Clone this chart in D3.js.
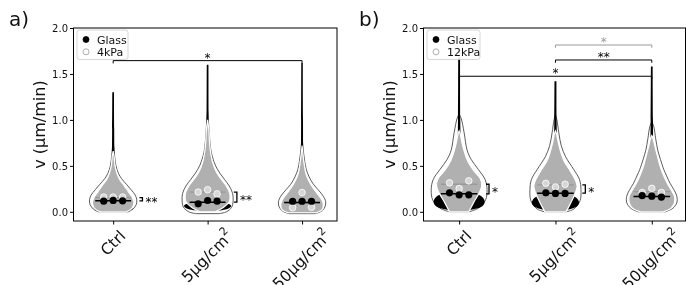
<!DOCTYPE html>
<html>
<head>
<meta charset="utf-8">
<script src="https://cdn.jsdelivr.net/npm/d3@7"></script>
<style>
body { margin: 0; background: #fff; }
svg { will-change: transform; }
text { font-family: "DejaVu Sans", sans-serif; }
</style>
</head>
<body>
<div id="chart"></div>
<script>
var categories = ["Ctrl", "5µg/cm^2", "50µg/cm^2"];
var yTicks = [0, 0.5, 1.0, 1.5, 2.0];
var legendA = ["Glass", "4kPa"];
var legendB = ["Glass", "12kPa"];

// replicate means (dots) and medians, per category
var glassDotsA = [[0.116, 0.124, 0.12], [0.087, 0.123, 0.116], [0.115, 0.115, 0.115]];
var softDotsA = [[0.16, 0.16, 0.16], [0.215, 0.24, 0.195], [0.045, 0.21, 0.05]];
var glassMedA = [0.12, 0.105, 0.10];
var softMedA = [0.155, 0.215, 0.095];

var glassDotsB = [[0.207, 0.185, 0.185], [0.207, 0.2, 0.2], [0.177, 0.17, 0.16]];
var softDotsB = [[0.315, 0.253, 0.337], [0.31, 0.27, 0.30], [0.21, 0.255, 0.21]];
var glassMedB = [0.196, 0.203, 0.167];
var softMedB = [0.30, 0.293, 0.22];

// violin outlines: [value, half width]
var outerA = [
  [[0, 0.16], [0.03, 0.21], [0.08, 0.245], [0.13, 0.25], [0.18, 0.235], [0.24, 0.19], [0.3, 0.14], [0.36, 0.09], [0.42, 0.055], [0.5, 0.03], [0.6, 0.016], [0.7, 0.008], [0.76, 0]],
  [[-0.02, 0.12], [0, 0.2], [0.05, 0.255], [0.12, 0.27], [0.2, 0.265], [0.28, 0.23], [0.35, 0.18], [0.42, 0.13], [0.5, 0.085], [0.6, 0.05], [0.7, 0.03], [0.85, 0.018], [1.0, 0.008], [1.1, 0]],
  [[-0.02, 0.14], [0.01, 0.21], [0.06, 0.245], [0.11, 0.25], [0.17, 0.225], [0.24, 0.17], [0.3, 0.12], [0.38, 0.075], [0.46, 0.045], [0.55, 0.028], [0.65, 0.015], [0.75, 0.006], [0.8, 0]]
];
var blackA = [
  [[0, 0.12], [0.03, 0.2], [0.07, 0.21], [0.11, 0.18], [0.16, 0.1], [0.22, 0.05], [0.3, 0.025], [0.5, 0.015], [0.9, 0.011], [1.3, 0.009]],
  [[0.01, 0.1], [0.035, 0.22], [0.065, 0.25], [0.095, 0.2], [0.13, 0.1], [0.2, 0.055], [0.28, 0.035], [0.4, 0.02], [0.8, 0.012], [1.6, 0.009]],
  [[0, 0.1], [0.05, 0.18], [0.1, 0.17], [0.15, 0.1], [0.22, 0.05], [0.3, 0.03], [0.5, 0.015], [1.0, 0.01], [1.62, 0.008]]
];
var greyA = [
  [[0, 0.14], [0.04, 0.2], [0.1, 0.22], [0.16, 0.2], [0.22, 0.16], [0.28, 0.12], [0.35, 0.07], [0.42, 0.04], [0.5, 0.02], [0.6, 0.01], [0.66, 0]],
  [[0.0, 0.08], [0.05, 0.17], [0.11, 0.23], [0.2, 0.235], [0.28, 0.2], [0.36, 0.14], [0.44, 0.09], [0.55, 0.05], [0.7, 0.025], [0.9, 0.012], [1.0, 0]],
  [[-0.01, 0.15], [0.02, 0.21], [0.08, 0.225], [0.13, 0.21], [0.2, 0.16], [0.27, 0.11], [0.34, 0.07], [0.42, 0.04], [0.5, 0.025], [0.6, 0.012], [0.72, 0]]
];
var outerB = [
  [[0, 0.1], [0.04, 0.2], [0.13, 0.275], [0.24, 0.29], [0.35, 0.27], [0.46, 0.2], [0.57, 0.125], [0.67, 0.083], [0.86, 0.052], [1.02, 0.02], [1.06, 0]],
  [[0, 0.11], [0.03, 0.19], [0.12, 0.255], [0.24, 0.265], [0.35, 0.25], [0.46, 0.19], [0.6, 0.105], [0.72, 0.06], [0.86, 0.035], [1.0, 0.015], [1.06, 0]],
  [[0, 0.14], [0.04, 0.22], [0.1, 0.26], [0.17, 0.26], [0.24, 0.23], [0.31, 0.19], [0.4, 0.15], [0.46, 0.125], [0.57, 0.09], [0.67, 0.062], [0.8, 0.04], [0.93, 0.02], [0.98, 0]]
];
var blackB = [
  [[0.02, 0.12], [0.06, 0.24], [0.11, 0.265], [0.16, 0.24], [0.21, 0.16], [0.28, 0.08], [0.4, 0.04], [0.6, 0.02], [1.0, 0.012], [1.68, 0.01]],
  [[0.02, 0.12], [0.06, 0.225], [0.1, 0.245], [0.15, 0.22], [0.2, 0.14], [0.28, 0.07], [0.4, 0.04], [0.6, 0.02], [1.0, 0.012], [1.42, 0.01]],
  [[0, 0.08], [0.05, 0.16], [0.1, 0.18], [0.15, 0.14], [0.22, 0.08], [0.3, 0.04], [0.5, 0.02], [1.0, 0.012], [1.58, 0.009]]
];
var greyB = [
  [[0, 0.1], [0.1, 0.15], [0.2, 0.205], [0.28, 0.235], [0.36, 0.22], [0.45, 0.15], [0.55, 0.09], [0.65, 0.055], [0.75, 0.03], [0.85, 0.01], [0.88, 0]],
  [[0, 0.11], [0.1, 0.16], [0.2, 0.205], [0.28, 0.225], [0.36, 0.2], [0.45, 0.15], [0.55, 0.09], [0.65, 0.055], [0.75, 0.03], [0.85, 0.01], [0.88, 0]],
  [[0, 0.12], [0.04, 0.2], [0.1, 0.235], [0.17, 0.235], [0.24, 0.2], [0.31, 0.16], [0.4, 0.12], [0.5, 0.085], [0.6, 0.06], [0.7, 0.035], [0.8, 0.012], [0.83, 0]]
];

// significance: glass vs soft next to each violin, and between categories
var innerSigA = ["**", "**", null];
var innerSigB = ["*", "*", null];
var topSigA = [[0, 2, 1.645, "*", "glass"]];
var topSigB = [[1, 2, 1.815, "*", "soft"], [1, 2, 1.652, "**", "glass"], [0, 2, 1.475, "*", "glass"]];

var width = 686, height = 285;
var top0 = 28, bottom0 = 221;

var svg = d3.select('#chart')
  .append('svg')
  .attr('width', width)
  .attr('height', height);

var panel = function(cfg) {
  var x = d3.scaleLinear().domain(cfg.xDomain).range([cfg.left, cfg.right]);
  var y = d3.scaleLinear().domain([-0.1, 2.0]).range([bottom0, top0]);
  var g = svg.append('g');

  var violin = function(c) {
    return d3.area()
      .curve(d3.curveCatmullRom.alpha(0.5))
      .y(function(d) { return y(d[0]); })
      .x0(function(d) { return x(c - d[1]); })
      .x1(function(d) { return x(c + d[1]); });
  };

  categories.forEach(function(cat, i) {
    g.append('path').attr('d', violin(i)(cfg.outer[i]))
      .attr('fill', '#fff').attr('stroke', '#333').attr('stroke-width', 0.8);
    g.append('path').attr('d', violin(i)(cfg.black[i]))
      .attr('fill', '#000');
    g.append('path').attr('d', violin(i)(cfg.grey[i]))
      .attr('fill', '#b0b0b0').attr('stroke', '#fff').attr('stroke-width', 1.2);
  });

  var jitter = [-0.1, 0, 0.1];
  var halfLine = 0.19;

  categories.forEach(function(cat, i) {
    g.append('line')
      .attr('x1', x(i - halfLine)).attr('x2', x(i + halfLine))
      .attr('y1', y(cfg.softMed[i])).attr('y2', y(cfg.softMed[i]))
      .attr('stroke', '#999').attr('stroke-width', 1.3);
    g.append('line')
      .attr('x1', x(i - halfLine)).attr('x2', x(i + halfLine))
      .attr('y1', y(cfg.glassMed[i])).attr('y2', y(cfg.glassMed[i]))
      .attr('stroke', '#000').attr('stroke-width', 1.5);
    g.selectAll('.soft' + i)
      .data(cfg.softDots[i])
      .enter().append('circle')
      .attr('cx', function(d, j) { return x(i + jitter[j]); })
      .attr('cy', function(d) { return y(d); })
      .attr('r', 3.3)
      .attr('fill', '#d6d6d6').attr('stroke', '#fff').attr('stroke-width', 0.8);
    g.selectAll('.glass' + i)
      .data(cfg.glassDots[i])
      .enter().append('circle')
      .attr('cx', function(d, j) { return x(i + jitter[j]); })
      .attr('cy', function(d) { return y(d); })
      .attr('r', 3.6)
      .attr('fill', '#000');

    if (cfg.innerSig[i]) {
      var bx = x(i + 0.31);
      var y1 = y(cfg.softMed[i]), y2 = y(cfg.glassMed[i]);
      g.append('path')
        .attr('d', 'M' + (bx - 3) + ',' + y1 + 'H' + bx + 'V' + y2 + 'H' + (bx - 3))
        .attr('fill', 'none').attr('stroke', '#000').attr('stroke-width', 1.3);
      g.append('text')
        .attr('x', bx + 3).attr('y', (y1 + y2) / 2 + 7)
        .attr('font-size', 12)
        .attr('fill', '#000')
        .text(cfg.innerSig[i]);
    }
  });

  cfg.topSig.forEach(function(s) {
    var col = s[4] === 'soft' ? '#999' : '#000';
    var drop = 0.03;
    g.append('path')
      .attr('d', 'M' + x(s[0]) + ',' + y(s[2] - drop) + 'V' + y(s[2]) + 'H' + x(s[1]) + 'V' + y(s[2] - drop))
      .attr('fill', 'none').attr('stroke', col).attr('stroke-width', 1);
    g.append('text')
      .attr('x', (x(s[0]) + x(s[1])) / 2).attr('y', y(s[2]) + 1)
      .attr('text-anchor', 'middle')
      .attr('font-size', 12)
      .attr('fill', col)
      .text(s[3]);
  });

  // axes
  var yAxis = d3.axisLeft(y).tickValues(yTicks).tickFormat(d3.format('.1f'))
    .tickSize(3.5).tickSizeOuter(0).tickPadding(2);
  var ya = g.append('g').attr('transform', 'translate(' + cfg.left + ',0)').call(yAxis);
  ya.select('.domain').remove();
  ya.selectAll('text').attr('font-size', 10).attr('font-family', '"DejaVu Sans", sans-serif').attr('fill', '#111');

  var xAxis = d3.axisBottom(x).tickValues([0, 1, 2]).tickFormat('').tickSize(3.5).tickSizeOuter(0);
  var xa = g.append('g').attr('transform', 'translate(0,' + bottom0 + ')').call(xAxis);
  xa.select('.domain').remove();

  g.append('rect')
    .attr('x', cfg.left).attr('y', top0)
    .attr('width', cfg.right - cfg.left).attr('height', bottom0 - top0)
    .attr('fill', 'none').attr('stroke', '#000').attr('stroke-width', 1);

  categories.forEach(function(cat, i) {
    var parts = cat.split('^');
    var t = g.append('text')
      .attr('text-anchor', 'middle')
      .attr('dominant-baseline', 'central')
      .attr('font-size', 15.5)
      .attr('fill', '#111');
    t.append('tspan').text(parts[0]);
    if (parts[1]) {
      t.append('tspan').attr('font-size', 11).attr('dy', -7).text(parts[1]);
    }
    var L = t.node().getComputedTextLength();
    var half = (L + 18) * Math.SQRT1_2 / 2;
    t.attr('transform', 'translate(' + x(i) + ',' + (bottom0 + 6 + half) + ') rotate(-45)');
  });

  g.append('text')
    .attr('transform', 'translate(' + (cfg.left - 29) + ',' + ((top0 + bottom0) / 2) + ') rotate(-90)')
    .attr('text-anchor', 'middle')
    .attr('font-size', 16)
    .attr('fill', '#111')
    .text('v (µm/min)');

  g.append('text')
    .attr('x', cfg.labelX).attr('y', 26)
    .attr('font-size', 20)
    .attr('fill', '#111')
    .text(cfg.label);

  // legend
  var lg = g.append('g').attr('transform', 'translate(' + (cfg.left + 3.5) + ',' + (top0 + 2) + ')');
  lg.append('rect')
    .attr('width', cfg.legendW).attr('height', 29.5)
    .attr('rx', 2.5)
    .attr('fill', '#fff').attr('fill-opacity', 0.85)
    .attr('stroke', '#ccc').attr('stroke-width', 0.8);
  cfg.legend.forEach(function(name, i) {
    lg.append('circle')
      .attr('cx', 9).attr('cy', 9.5 + i * 12.3)
      .attr('r', 3)
      .attr('fill', i === 0 ? '#000' : '#fff')
      .attr('stroke', i === 0 ? '#000' : '#999')
      .attr('stroke-width', 0.8);
    lg.append('text')
      .attr('x', 20).attr('y', 13.5 + i * 12.3)
      .attr('font-size', 11)
      .attr('fill', '#111')
      .text(name);
  });
};

panel({
  left: 73.5, right: 337, xDomain: [-0.42, 2.37],
  label: 'a)', labelX: 9, legend: legendA, legendW: 51,
  outer: outerA, black: blackA, grey: greyA,
  glassDots: glassDotsA, softDots: softDotsA, glassMed: glassMedA, softMed: softMedA,
  innerSig: innerSigA, topSig: topSigA
});

panel({
  left: 423.5, right: 685.5, xDomain: [-0.37, 2.35],
  label: 'b)', labelX: 359, legend: legendB, legendW: 53,
  outer: outerB, black: blackB, grey: greyB,
  glassDots: glassDotsB, softDots: softDotsB, glassMed: glassMedB, softMed: softMedB,
  innerSig: innerSigB, topSig: topSigB
});
</script>
</body>
</html>
